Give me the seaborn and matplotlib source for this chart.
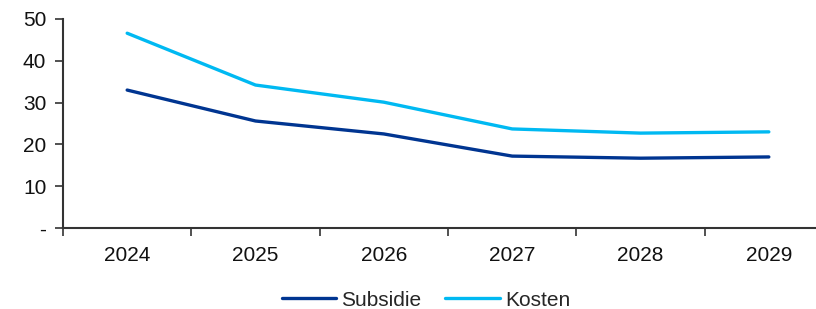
import matplotlib
matplotlib.use("Agg")
import matplotlib.pyplot as plt
import seaborn as sns
import pandas as pd
import numpy as np

years = ["2024", "2025", "2026", "2027", "2028", "2029"]
subsidie = [33.0, 25.6, 22.5, 17.2, 16.7, 17.0]
kosten = [46.6, 34.2, 30.1, 23.7, 22.7, 23.0]
yticks = [0, 10, 20, 30, 40, 50]
ytick_labels = ["-", "10", "20", "30", "40", "50"]

sns.set_style("white")
plt.rcParams["font.family"] = ["Liberation Sans", "DejaVu Sans"]

df = pd.DataFrame({
    "pos": list(range(len(years))) * 2,
    "value": subsidie + kosten,
    "serie": ["Subsidie"] * len(years) + ["Kosten"] * len(years),
})

FS = 15
fig = plt.figure(figsize=(8.16, 3.09), dpi=100)
ax = fig.add_axes([63/816, 1 - 228/309, (833-63)/816, (228-19)/309])
sns.lineplot(data=df, x="pos", y="value", hue="serie",
             palette={"Subsidie": "#003591", "Kosten": "#00B9F2"},
             linewidth=2.4, ax=ax, legend=True)

ax.set_xlim(-0.5, len(years) - 0.5)
ax.set_ylim(0, 50)
ax.set_yticks(yticks)
ax.set_yticklabels(ytick_labels, fontsize=FS, color="#111111")
ax.set_xticks(np.arange(-0.5, len(years), 1.0))
ax.set_xticklabels([])
ax.set_xticks(range(len(years)), minor=True)
ax.set_xticklabels(years, minor=True, fontsize=FS, color="#111111")
ax.tick_params(axis="x", which="major", direction="out", length=6, width=1.2, color="#333333", bottom=True)
ax.tick_params(axis="x", which="minor", length=0, pad=13)
ax.tick_params(axis="y", direction="out", length=6, width=1.2, color="#333333", left=True, pad=6)
ax.set_xlabel("")
ax.set_ylabel("")
for s in ["top", "right"]:
    ax.spines[s].set_visible(False)
for s in ["left", "bottom"]:
    ax.spines[s].set_color("#333333")
    ax.spines[s].set_linewidth(1.5)

handles, labels = ax.get_legend_handles_labels()
ax.get_legend().remove()
fig.legend(handles, labels, loc="center", bbox_to_anchor=(426/816, 1 - 300/309),
           ncol=2, frameon=False, fontsize=FS, handlelength=2.6, handletextpad=0.25,
           columnspacing=1.15)

fig.savefig("out.png", dpi=100)
